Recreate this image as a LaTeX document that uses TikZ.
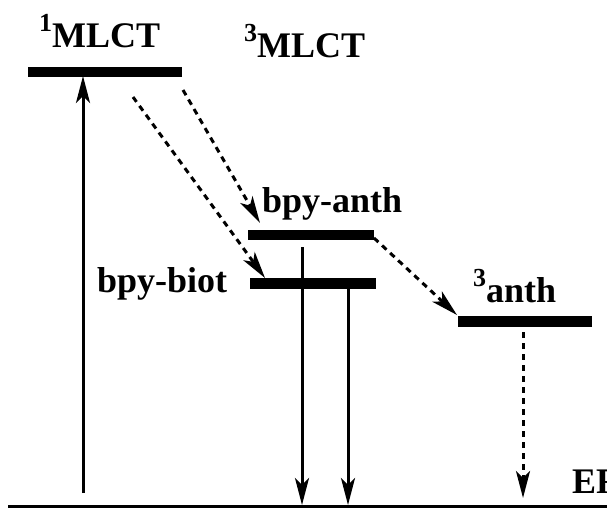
\documentclass[tikz,border=0pt]{standalone}
\usepackage{fontspec}
\setmainfont{Liberation Serif}
\usetikzlibrary{arrows.meta}
\newcommand{\supnum}[1]{\raisebox{16pt}{\fontsize{26}{26}\selectfont #1}}
\tikzset{
  bar/.style={fill=black, inner sep=0pt, minimum height=10.5pt},
  lbl/.style={anchor=base west, inner sep=0pt, font=\fontsize{36}{40}\selectfont\bfseries},
  solidarrow/.style={line width=3pt, -{Stealth[length=27pt, width=14pt, inset=7pt]}},
  dasharrow/.style={line width=3pt, dash pattern=on 6pt off 5pt, -{Stealth[length=27pt, width=14pt, inset=7pt]}},
}
\begin{document}
\begin{tikzpicture}[x=1pt, y=-1pt]
\useasboundingbox (0,0) rectangle (607,508);
% levels
\node[bar, minimum width=154pt] (s1) at (105,72) {};
\node[bar, minimum width=126pt] (ba) at (311,235) {};
\node[bar, minimum width=126pt] (bb) at (313,283.5) {};
\node[bar, minimum width=134pt] (an) at (525,321.5) {};
% labels
\node[lbl] (t1) at (39,48) {\supnum{1}MLCT};
\node[lbl] (t3) at (244,58) {\supnum{3}MLCT};
\node[lbl] (tba) at (262,212) {bpy-anth};
\node[lbl] (tbb) at (97,292) {bpy-biot};
\node[lbl] (tan) at (473,302) {\supnum{3}anth};
\node[lbl] (tef) at (572,493) {EF};
% ground
\coordinate (g0) at (8,506.5);
\coordinate (g1) at (612,506.5);
\draw[line width=3pt] (g0) -- (g1);
% coordinates
\coordinate (upA) at (83,493);
\coordinate (upB) at (83,76);
\coordinate (d1A) at (302,247);
\coordinate (d1B) at (302,505);
\coordinate (d2A) at (348,289);
\coordinate (d2B) at (348,505);
\coordinate (q1A) at (183,90);
\coordinate (q1B) at (260,223);
\coordinate (q2A) at (133,97);
\coordinate (q2B) at (265,278);
\coordinate (q3A) at (374,238);
\coordinate (q3B) at (457,315);
\coordinate (q4A) at (523,332);
\coordinate (q4B) at (523,498);
% arrows
\draw[solidarrow] (upA) -- (upB);
\draw[solidarrow] (d1A) -- (d1B);
\draw[solidarrow] (d2A) -- (d2B);
\draw[dasharrow] (q1A) -- (q1B);
\draw[dasharrow] (q2A) -- (q2B);
\draw[dasharrow] (q3A) -- (q3B);
\draw[dasharrow] (q4A) -- (q4B);
\end{tikzpicture}
\end{document}
